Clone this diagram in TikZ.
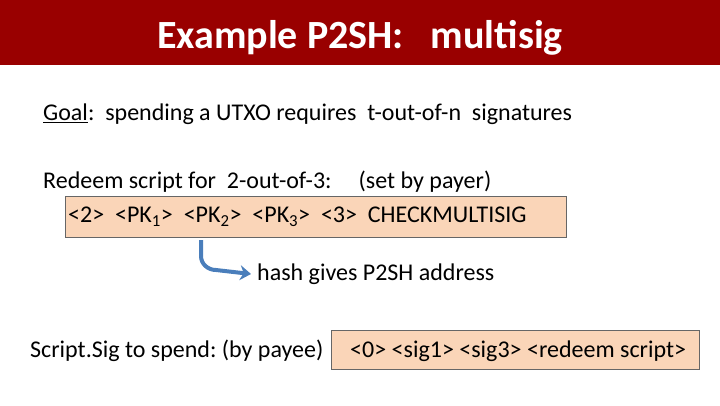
\documentclass[tikz,border=0pt]{standalone}
\usepackage{fontspec}
\usetikzlibrary{arrows.meta}
\setmainfont{Carlito}
\definecolor{bar}{HTML}{990000}
\definecolor{peach}{HTML}{FAD5B8}
\definecolor{arr}{HTML}{4A7EBB}
\begin{document}
\begin{tikzpicture}[x=1pt,y=-1pt,
  txt/.style={anchor=west,inner sep=0pt,font=\fontsize{24}{28}\selectfont},
  pbox/.style={draw=gray!80!black,fill=peach,line width=0.8pt}]
\useasboundingbox (0,0) rectangle (720,405);
\fill[bar] (0,0) rectangle (720,65);
\node[font=\fontsize{40}{46}\selectfont\bfseries,text=white] (title) at (360,38) {Example P2SH:\ \ \ multisig};
\node[txt] (goal) at (43,114) {\underline{Goal}:\ \ spending a UTXO requires\ \ t-out-of-n\ \ signatures};
\node[txt] (red) at (43,182) {Redeem script for\ \ 2-out-of-3:\ \ \ \ \ (set by payer)};
\draw[pbox] (65,196) rectangle (566,237);
\node[txt] (rs) at (68,217) {<2>\ \ <PK\textsubscript{1}>\ \ <PK\textsubscript{2}>\ \ <PK\textsubscript{3}>\ \ <3>\ \ CHECKMULTISIG};
\node[txt] (hash) at (257,274) {hash gives P2SH address};
\coordinate (s) at (201,240);
\draw[arr,line width=4pt,-{Stealth[length=11pt,width=15pt]}] (s) -- (201,256) to[out=-90,in=180] (216,270) -- ([xshift=-6pt]hash.west);
\node[txt] (ss) at (30,351) {Script.Sig to spend:\ (by payee)};
\draw[pbox] (331,330) rectangle (699,369);
\node[txt] (sig) at (350,351) {<0> <sig1> <sig3> <redeem script>};
\end{tikzpicture}
\end{document}
